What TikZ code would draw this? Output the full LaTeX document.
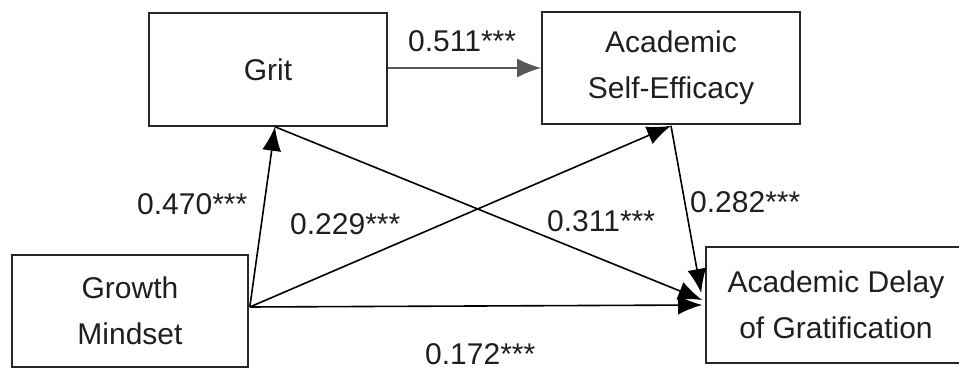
\documentclass[tikz,border=0pt]{standalone}
\usepackage{fontspec}
\setmainfont{Liberation Sans}
\usetikzlibrary{arrows.meta,calc}
\begin{document}
\begin{tikzpicture}[x=1pt,y=-1pt,
  box/.style={draw=black!85,line width=1.6pt,rectangle,align=center,inner sep=0pt,
    text=black!88,font=\fontsize{30}{46}\selectfont},
  path/.style={draw=black,line width=1.6pt,-{Latex[length=24pt,width=19pt]}},
  grayp/.style={draw=black!65,line width=1.6pt,-{Latex[length=24pt,width=19pt]}},
  lab/.style={anchor=base west,inner sep=0pt,text=black!88,font=\fontsize{30}{36}\selectfont}]
\useasboundingbox (0,0) rectangle (959,371);
\node[box,minimum width=238pt,minimum height=113pt] (grit) at (268,69.5) {Grit};
\node[box,minimum width=258pt,minimum height=112pt] (ase) at (671,68) {Academic\\Self-Efficacy};
\node[box,minimum width=236pt,minimum height=112pt] (gm) at (130,311) {Growth\\Mindset};
\node[box,minimum width=260pt,minimum height=116pt] (adg) at (836,305) {Academic Delay\\of Gratification};
\coordinate (gmo) at ($(gm.east)+(1,-4)$);
\coordinate (gritb) at ($(grit.south)+(7,0)$);
\coordinate (aseb) at ($(ase.south)+(0,1)$);
\coordinate (adg1) at ($(adg.west)+(-3,-5)$);
\coordinate (adg2) at ($(adg.west)+(-4,-12)$);
\coordinate (adg3) at ($(adg.west)+(-3,0)$);
\draw[grayp] (grit.east |- 0,68) -- (ase.west |- 0,68);
\draw[path] (gmo) -- (gritb);
\draw[path] (gmo) -- (aseb);
\draw[path] (gritb) -- (adg1);
\draw[path] (aseb) -- (adg2);
\draw[path] (gmo) -- (adg3);
\node[lab] (l1) at (408,52) {0.511***};
\node[lab] (l2) at (137,215) {0.470***};
\node[lab] (l3) at (290,235) {0.229***};
\node[lab] (l4) at (547,232) {0.311***};
\node[lab] (l5) at (690,213) {0.282***};
\node[lab] (l6) at (425,365) {0.172***};
\end{tikzpicture}
\end{document}
